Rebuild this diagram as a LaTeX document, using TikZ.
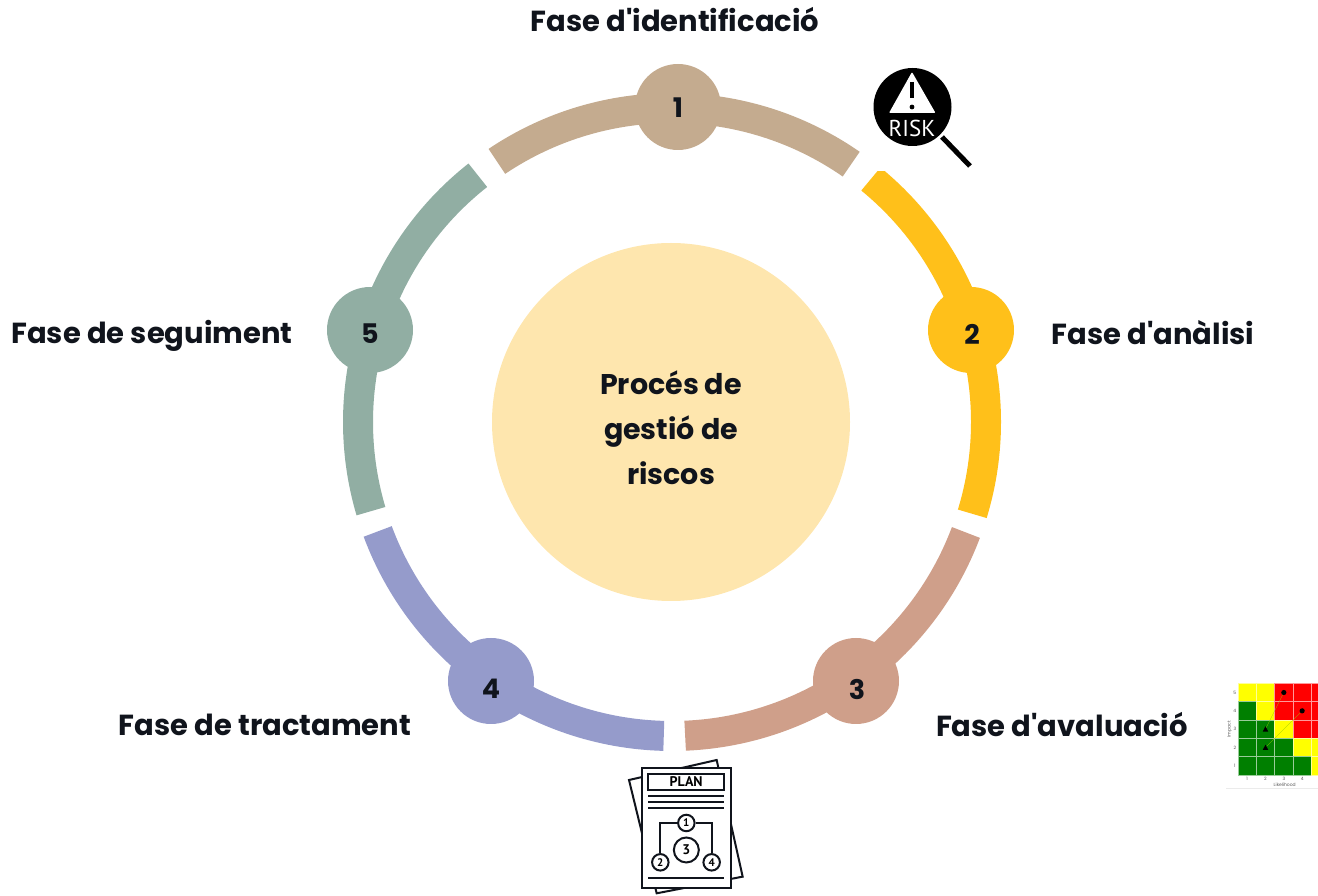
\documentclass[tikz,border=0pt]{standalone}
\usepackage{fontspec}
\setmainfont{Poppins}
\newfontfamily\iconfont{PT Sans}
\definecolor{ringtan}{HTML}{C4AB8F}
\definecolor{ringgold}{HTML}{FFC01A}
\definecolor{ringrose}{HTML}{CF9F8A}
\definecolor{ringblue}{HTML}{959BCB}
\definecolor{ringsage}{HTML}{91AEA3}
\definecolor{hubfill}{HTML}{FEE6AE}
\definecolor{inkblack}{HTML}{10141C}
\definecolor{cellgreen}{HTML}{007F00}
\definecolor{cellyellow}{HTML}{FFFF00}
\definecolor{cellred}{HTML}{FF0000}
\tikzset{
    stepdisc/.style={circle, minimum size=86pt, inner sep=0pt},
    stepnum/.style={text=inkblack, inner sep=0pt, font=\fontsize{27}{29}\selectfont\bfseries},
    phaselabel/.style={text=inkblack, inner sep=0pt, font=\fontsize{29}{31}\selectfont\bfseries},
    tinytext/.style={text=black!65, inner sep=0pt, font=\fontsize{4.5}{5}\selectfont},
    planline/.style={draw=inkblack, line width=2pt},
    plancirc/.style={circle, planline, minimum size=16.5pt, inner sep=0pt, font=\iconfont\fontsize{11}{12}\selectfont\bfseries},
}
\begin{document}
\begin{tikzpicture}[x=1pt, y=1pt]
    \useasboundingbox (0,0) rectangle (1318,895);
    \coordinate (ctr) at (672,473);
    % ring
    \foreach \from/\to/\col in {123.9/55.2/ringtan, -20.6/-87.6/ringrose, 268.5/200.4/ringblue, 196.5/128.2/ringsage}
        \draw[\col, line width=30pt] (ctr) ++(\from:314) arc[start angle=\from, end angle=\to, radius=314];
    \begin{scope}
        \clip (800,0) rectangle (1318,723);
        \draw[ringgold, line width=30pt] (ctr) ++(50.7:314) arc[start angle=50.7, end angle=-17, radius=314];
    \end{scope}
    \node[stepdisc, fill=ringtan] (one) at (678,788) {};
    \node[stepdisc, fill=ringgold] (two) at (971,565) {};
    \node[stepdisc, fill=ringrose] (three) at (856,214) {};
    \node[stepdisc, fill=ringblue] (four) at (491,214) {};
    \node[stepdisc, fill=ringsage] (five) at (370,565) {};
    \node[stepnum] (numone) at ([yshift=-1pt]one) {1};
    \node[stepnum] (numtwo) at ([xshift=1pt, yshift=-4pt]two) {2};
    \node[stepnum] (numthree) at ([xshift=1pt, yshift=-8pt]three) {3};
    \node[stepnum] (numfour) at ([yshift=-8pt]four) {4};
    \node[stepnum] (numfive) at ([yshift=-4pt]five) {5};
    % centre
    \node[circle, fill=hubfill, minimum size=358pt, inner sep=0pt] (hub) at (671,473) {};
    \node[phaselabel, align=center, font=\fontsize{28.5}{45}\selectfont\bfseries] (hubtext) at (671,467) {Procés de\\gestió de\\riscos};
    % labels
    \node[phaselabel] (identif) at (675,875) {Fase d\textquotesingle identificació};
    \node[phaselabel] (analisi) at (1153,562) {Fase d\textquotesingle anàlisi};
    \node[phaselabel] (avalua) at (1062,170) {Fase d\textquotesingle avaluació};
    \node[phaselabel] (tracta) at (265,170) {Fase de tractament};
    \node[phaselabel] (segui) at (152,559) {Fase de seguiment};
    % risk icon
    \draw[black, line width=5pt] (942,758) -- (970,729);
    \node[circle, fill=black, minimum size=78pt, inner sep=0pt] (lens) at (912.5,788) {};
    \fill[white, rounded corners=1pt] (912,823) -- (935.5,782) -- (889,782) -- cycle;
    \draw[black, line width=3.6pt] (912,813) -- (912,797);
    \fill[black] (912,788) circle (2.4pt);
    \node[text=white, inner sep=0pt, font=\iconfont\fontsize{23}{24}\selectfont] (risk) at (912,767) {RISK};
    % plan
    \begin{scope}[shift={(620,140)}, x=0.3333pt, y=-0.3333pt]
        \draw[planline, fill=white] (27,75) -- (290,15) -- (368,365) -- (110,415) -- cycle;
        \draw[planline, fill=white] (65,40) rectangle (332,400);
        \node[planline, minimum width=75.5pt, minimum height=16pt, inner sep=0pt, font=\iconfont\fontsize{14}{15}\selectfont\bfseries] (plantitle) at (198.5,81) {PLAN};
        \foreach \yy in {122,140,158,368}
            \draw[planline] (85,\yy) -- (312,\yy);
        \node[plancirc] (pa) at (199,204) {1};
        \node[plancirc] (pb) at (121,322) {2};
        \node[plancirc, minimum size=25pt, font=\iconfont\fontsize{14}{15}\selectfont\bfseries] (pc) at (199,285) {3};
        \node[plancirc] (pd) at (275,322) {4};
        \draw[planline] (pa) -| (pb);
        \draw[planline] (pa) -| (pd);
    \end{scope}
    % risk matrix
    \begin{scope}
        \clip (1220,100) rectangle (1318,215);
        \begin{scope}[shift={(1238,120)}, x=18.33pt, y=18.33pt]
            \foreach \cx/\cy/\col in {0/4/cellyellow, 1/4/cellyellow, 2/4/cellred, 3/4/cellred, 4/4/cellred,
                0/3/cellgreen, 1/3/cellyellow, 2/3/cellred, 3/3/cellred, 4/3/cellred,
                0/2/cellgreen, 1/2/cellgreen, 2/2/cellyellow, 3/2/cellred, 4/2/cellred,
                0/1/cellgreen, 1/1/cellgreen, 2/1/cellgreen, 3/1/cellyellow, 4/1/cellyellow,
                0/0/cellgreen, 1/0/cellgreen, 2/0/cellgreen, 3/0/cellgreen, 4/0/cellyellow}
                \draw[white!60!\col, line width=0.4pt, fill=\col] (\cx,\cy) rectangle +(1,1);
            \coordinate (ca) at (2.5,4.5);
            \coordinate (cb) at (3.5,3.5);
            \coordinate (ta) at (1.5,2.5);
            \coordinate (tb) at (1.5,1.5);
            \draw[cellyellow!60!cellgreen, line width=0.25pt] (ta) -- (ca);
            \draw[cellyellow!60!cellgreen, line width=0.25pt] (tb) -- (cb);
            \foreach \pt in {ca,cb}
                \fill[black] (\pt) circle (2.6pt);
            \foreach \pt in {ta,tb}
                \fill[black] (\pt) ++(0,0.16) -- ++(-0.15,-0.29) -- ++(0.3,0) -- cycle;
            \foreach \nn in {1,2,3,4}
                \node[tinytext] (xt\nn) at (\nn-0.5,-0.22) {\nn};
            \foreach \nn in {1,2,3,4,5}
                \node[tinytext] (yt\nn) at (-0.17,\nn-0.5) {\nn};
            \node[tinytext] (xname) at (2.55,-0.55) {Likelihood};
            \node[tinytext, rotate=90] (yname) at (-0.45,2.5) {Impact};
        \end{scope}
        \draw[black!8, line width=0.6pt] (1226,107) -- (1318,107);
    \end{scope}
\end{tikzpicture}
\end{document}
